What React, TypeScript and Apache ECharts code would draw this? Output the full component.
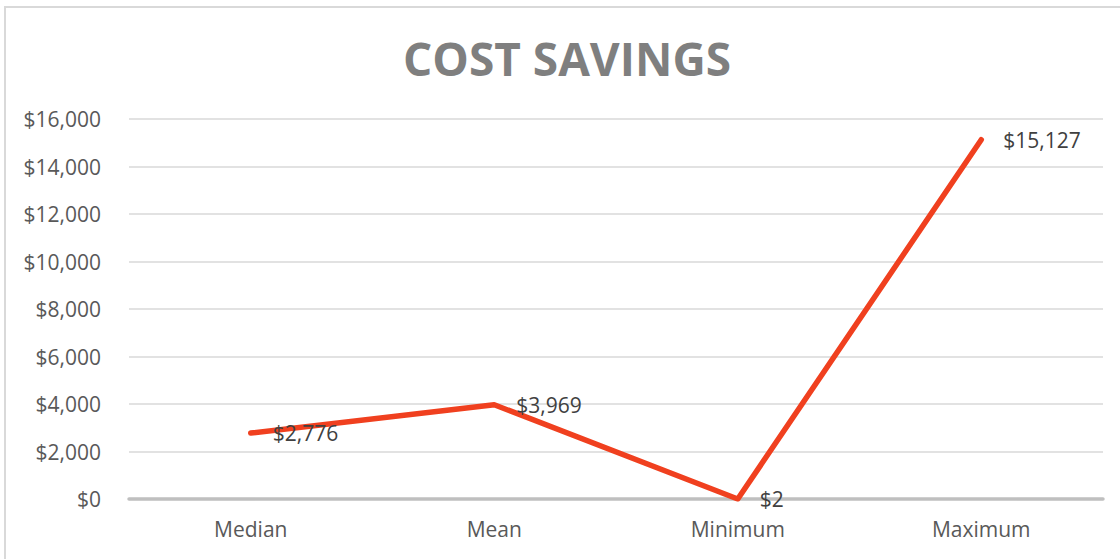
import React, { useEffect, useRef } from "react";
import * as echarts from "echarts";

const categories = ["Median", "Mean", "Minimum", "Maximum"];
const savings = [2776, 3969, 2, 15127];
const yTicks = { min: 0, max: 16000, interval: 2000 };
const titleText = "COST SAVINGS";

const fmt = (v: number) => "$" + Math.round(v).toLocaleString("en-US");

export default function App() {
  const ref = useRef<HTMLDivElement>(null);
  useEffect(() => {
    if (!ref.current) return;
    const chart = echarts.init(ref.current, null, { renderer: "svg" });
    const font = "'Open Sans', 'Liberation Sans', sans-serif";
    chart.setOption({
      animation: false,
      backgroundColor: "#ffffff",
      textStyle: { fontFamily: font },
      graphic: [
        {
          type: "rect",
          shape: { x: 5, y: 7, width: 1200, height: 600 },
          style: { fill: "none", stroke: "#D9D9D9", lineWidth: 2 },
          silent: true,
        },
        {
          type: "text",
          x: 567,
          y: 58,
          style: {
            text: titleText,
            fill: "#7F7F7F",
            font: `bold 46px ${font}`,
            textAlign: "center",
            textVerticalAlign: "middle",
          },
        },
      ],
      grid: { left: 129, right: 17, top: 119, bottom: 60, containLabel: false },
      xAxis: {
        type: "category",
        data: categories,
        boundaryGap: true,
        axisLine: { show: true, lineStyle: { color: "#BFBFBF", width: 3.5 } },
        axisTick: { show: false },
        axisLabel: { color: "#595959", fontSize: 21, margin: 19, fontFamily: font },
      },
      yAxis: {
        type: "value",
        min: yTicks.min,
        max: yTicks.max,
        interval: yTicks.interval,
        axisLine: { show: false },
        axisTick: { show: false },
        splitLine: { lineStyle: { color: "#D9D9D9", width: 1.5 } },
        axisLabel: {
          color: "#595959",
          fontSize: 21,
          margin: 28,
          fontFamily: font,
          formatter: (v: number) => fmt(v),
        },
      },
      series: [
        {
          type: "line",
          data: savings,
          symbol: "circle",
          symbolSize: 0.1,
          itemStyle: { color: "#F0401F" },
          lineStyle: { color: "#F0401F", width: 5.5, cap: "round", join: "round" },
          label: {
            show: true,
            position: "right",
            distance: 22,
            color: "#404040",
            fontSize: 21,
            fontFamily: font,
            formatter: (p: any) => fmt(p.value),
          },
          z: 3,
        },
      ],
    });
    return () => chart.dispose();
  }, []);
  return (
    <div
      ref={ref}
      style={{ position: "fixed", left: 0, top: 0, width: 1120, height: 559 }}
    />
  );
}
